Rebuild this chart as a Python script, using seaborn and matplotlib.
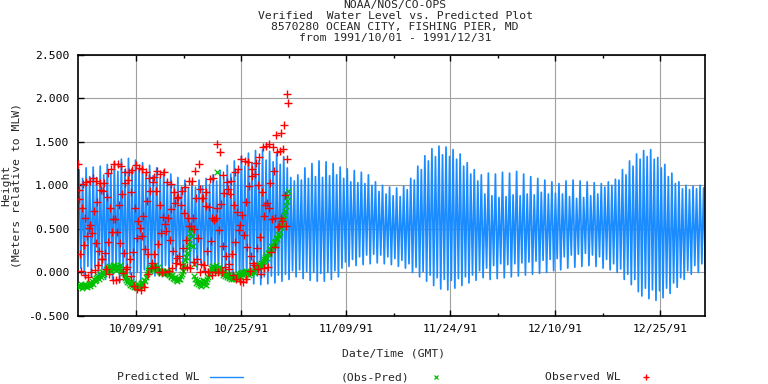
import numpy as np
import pandas as pd
import matplotlib
matplotlib.use("Agg")
import matplotlib.pyplot as plt
import seaborn as sns
from matplotlib.ticker import FormatStrFormatter

# --- data ---
title_lines = ["NOAA/NOS/CO-OPS",
               "Verified  Water Level vs. Predicted Plot",
               "8570280 OCEAN CITY, FISHING PIER, MD",
               "from 1991/10/01 - 1991/12/31"]

# predicted tide, one high and one low per tide cycle (m above MLW)
pred_high = [1.18, 1.08, 1.20, 1.10, 1.21, 1.09, 1.22, 1.12, 1.24, 1.13,
             1.27, 1.16, 1.30, 1.18, 1.31, 1.19, 1.29, 1.18,
             1.26, 1.14, 1.23, 1.11, 1.20, 1.09, 1.17,
             1.05, 1.13, 1.00, 1.09, 0.98, 1.06, 0.97,
             1.04, 0.98, 1.06, 0.99, 1.08, 1.01,
             1.12, 1.05, 1.17, 1.09, 1.23, 1.13, 1.28, 1.18, 1.33,
             1.22, 1.37, 1.26, 1.40, 1.28, 1.41, 1.29, 1.39,
             1.27, 1.36, 1.24, 1.33, 1.20,
             1.09, 1.05, 1.12,
             1.06, 1.20, 1.08, 1.25, 1.10, 1.28, 1.09, 1.27, 1.11, 1.25, 1.12,
             1.21, 1.08, 1.19, 1.04, 1.17, 1.03, 1.15, 1.02, 1.12, 1.00,
             1.04, 0.93, 1.00, 0.90, 0.98, 0.88, 0.97, 0.87, 0.99,
             0.95, 1.08, 1.06, 1.22, 1.18,
             1.34, 1.28, 1.42, 1.33, 1.45, 1.35, 1.44, 1.33, 1.41,
             1.30, 1.36, 1.22, 1.26, 1.13, 1.18,
             1.05, 1.12, 0.90, 1.14, 0.88, 1.13, 0.86, 1.15, 0.87, 1.14, 0.89, 1.16,
             0.88, 1.13, 0.90, 1.10, 0.89, 1.08, 0.92, 1.06, 0.90, 1.04, 0.91, 1.02,
             0.90, 1.05, 0.87, 1.06, 0.85, 1.05, 0.86, 1.04, 0.88, 1.03, 0.90, 1.02,
             0.98, 1.04, 1.00, 1.07, 1.06,
             1.18, 1.12, 1.28, 1.22, 1.36, 1.30, 1.40, 1.33, 1.41, 1.30,
             1.32, 1.20, 1.24, 1.10, 1.14, 1.02,
             1.04, 0.96, 1.00, 0.95, 0.99, 0.96, 1.00, 0.97]
pred_low = [0.05, -0.04, 0.07, -0.05, 0.06, -0.06, 0.04, -0.08, 0.03, -0.09,
            0.01, -0.11, -0.01, -0.13, -0.02, -0.12, 0.00, -0.10,
            0.03, -0.06, 0.05, -0.04, 0.06, -0.03, 0.08, -0.01,
            0.10, 0.02, 0.12, 0.03, 0.13, 0.04, 0.12, 0.03, 0.11, 0.02, 0.09, 0.00,
            0.06, -0.03, 0.03, -0.06, 0.01, -0.08, 0.00, -0.09, -0.02,
            -0.11, -0.03, -0.13, -0.04, -0.14, -0.05, -0.13, -0.04, -0.12, -0.03, -0.10, -0.02, -0.08,
            0.02, -0.05, 0.03,
            -0.07, 0.01, -0.09, 0.00, -0.10, -0.01, -0.10, 0.00, -0.08, 0.02, -0.05,
            0.05, 0.12, 0.07, 0.15, 0.08, 0.18, 0.09, 0.20, 0.10, 0.21,
            0.11, 0.20, 0.10, 0.18, 0.09, 0.16, 0.07, 0.14, 0.05,
            0.10, 0.00, 0.06, -0.05, 0.01,
            -0.10, -0.03, -0.15, -0.06, -0.19, -0.08, -0.20, -0.09, -0.18, -0.07, -0.15, -0.05, -0.12, -0.03, -0.09,
            0.02, -0.06, 0.05, -0.08, 0.08, -0.07, 0.10, -0.06, 0.09, -0.05, 0.10, -0.04,
            0.11, -0.03, 0.12, -0.02, 0.13, -0.01, 0.14, 0.00, 0.15, 0.02, 0.16, 0.03,
            0.18, 0.05, 0.20, 0.06, 0.21, 0.07, 0.22, 0.08, 0.20, 0.07, 0.18, 0.05, 0.15, 0.03, 0.10, 0.00,
            0.04, -0.08, -0.02, -0.14, -0.08,
            -0.22, -0.27, -0.18, -0.30, -0.20, -0.32, -0.21, -0.29, -0.18,
            -0.24, -0.12, -0.17, -0.06,
            -0.08, 0.02, -0.02, 0.08, 0.00, 0.10, 0.03]

# observed water level, 3-hourly from 1991-10-01 00:00 (one row per day)
observed = [1.25, 0.84, 0.95, 0.21, 0.02, 0.74, 1.01, 0.31,
            -0.03, 0.63, 1.04, 0.42, -0.05, 0.51, 1.05, 0.55,
            0.01, 0.45, 1.08, 0.71, 0.03, 0.34, 1.05, 0.81,
            0.09, 0.25, 1.03, 0.95, 0.16, 0.16, 0.94, 1.03,
            0.22, 0.04, 0.87, 1.14, 0.35, -0.02, 0.74, 1.19,
            0.47, -0.09, 0.61, 1.25, 0.61, -0.09, 0.47, 1.24,
            0.77, -0.07, 0.34, 1.22, 0.90, -0.01, 0.22, 1.15,
            1.03, 0.04, 0.06, 1.06, 1.15, 0.16, -0.04, 0.92,
            1.18, 0.24, -0.16, 0.74, 1.23, 0.39, -0.19, 0.59,
            1.20, 0.51, -0.20, 0.42, 1.19, 0.65, -0.17, 0.27,
            1.15, 0.82, -0.02, 0.21, 1.09, 0.94, 0.05, 0.11,
            1.04, 1.10, 0.21, 0.06, 0.94, 1.17, 0.33, 0.00,
            0.77, 1.13, 0.45, 0.01, 0.64, 1.15, 0.56, 0.00,
            0.48, 1.04, 0.62, 0.02, 0.37, 1.02, 0.73, 0.05,
            0.25, 0.92, 0.80, 0.11, 0.17, 0.86, 0.87, 0.19,
            0.10, 0.77, 0.94, 0.28, 0.05, 0.68, 0.98, 0.37,
            0.06, 0.63, 1.05, 0.53, 0.05, 0.53, 1.05, 0.63,
            0.12, 0.50, 1.17, 0.85, 0.15, 0.39, 1.24, 0.96,
            0.01, 0.10, 0.85, 0.85, 0.09, 0.02, 0.76, 0.92,
            0.25, 0.01, 0.75, 1.07, 0.36, -0.03, 0.62, 1.09,
            0.60, 0.00, 0.63, 1.48, 0.74, 0.01, 0.49, 1.38,
            0.79, 0.00, 0.30, 1.12, 0.91, 0.06, 0.19, 1.04,
            0.96, 0.10, 0.04, 0.90, 1.05, 0.21, -0.03, 0.78,
            1.15, 0.35, -0.08, 0.69, 1.19, 0.49, -0.10, 0.55,
            1.30, 0.66, -0.11, 0.43, 1.28, 0.81, -0.07, 0.29,
            1.27, 0.99, 0.02, 0.19, 1.19, 1.11, 0.11, 0.08,
            1.13, 1.26, 0.28, 0.04, 1.00, 1.33, 0.41, -0.02,
            0.92, 1.44, 0.65, 0.05, 0.77, 1.45, 0.80, 0.06,
            0.74, 1.48, 1.03, 0.23, 0.61, 1.44, 1.16, 0.29,
            0.63, 1.58, 1.38, 0.52, 0.53, 1.39, 1.60, 0.62,
            0.59, 1.42, 1.69, 0.89, 0.53, 1.30, 2.05, 1.95]

# observed minus predicted, same times
obs_minus_pred = [-0.15, -0.17, -0.14, -0.16, -0.13, -0.18, -0.15, -0.14,
                  -0.16, -0.13, -0.15, -0.17, -0.14, -0.12, -0.16, -0.13,
                  -0.12, -0.10, -0.13, -0.08, -0.10, -0.06, -0.09, -0.05,
                  -0.04, -0.07, -0.02, -0.05, 0.00, -0.03, 0.01, -0.02,
                  0.02, 0.04, 0.00, 0.06, 0.03, 0.07, 0.04, 0.02,
                  0.05, 0.08, 0.04, 0.09, 0.06, 0.03, 0.07, 0.05,
                  0.06, 0.04, 0.08, 0.02, 0.03, -0.01, 0.01, -0.03,
                  -0.06, -0.09, -0.11, -0.08, -0.12, -0.14, -0.10, -0.13,
                  -0.15, -0.12, -0.17, -0.14, -0.16, -0.13, -0.18, -0.15,
                  -0.14, -0.16, -0.12, -0.15, -0.11, -0.13, -0.09, -0.10,
                  -0.05, -0.02, 0.01, 0.03, 0.05, 0.02, 0.06, 0.04,
                  0.07, 0.04, 0.06, 0.08, 0.05, 0.03, 0.06, 0.02,
                  0.01, 0.03, -0.01, 0.02, 0.00, -0.02, 0.01, -0.01,
                  0.02, -0.01, 0.00, -0.03, -0.02, -0.04, -0.05, -0.03,
                  -0.06, -0.08, -0.05, -0.09, -0.07, -0.10, -0.06, -0.08,
                  -0.07, -0.04, -0.02, 0.02, 0.06, 0.10, 0.14, 0.18,
                  0.22, 0.28, 0.33, 0.38, 0.45, 0.50, 0.42, 0.30,
                  0.10, -0.04, -0.08, -0.12, -0.09, -0.13, -0.10, -0.14,
                  -0.11, -0.15, -0.12, -0.09, -0.13, -0.10, -0.14, -0.11,
                  -0.08, -0.05, -0.02, 0.02, 0.05, 0.03, 0.07, 0.04,
                  0.06, 0.03, 0.08, 1.15, 0.05, 0.02, 0.06, 0.03,
                  0.01, 0.04, -0.01, -0.03, 0.00, -0.04, -0.02, -0.05,
                  -0.03, -0.06, -0.02, -0.05, -0.07, -0.04, -0.08, -0.05,
                  -0.06, -0.03, -0.07, -0.04, -0.02, -0.05, -0.01, -0.04,
                  -0.02, 0.01, -0.03, 0.00, -0.02, 0.02, -0.01, 0.01,
                  0.00, -0.03, 0.01, -0.02, 0.02, 0.00, 0.03, 0.01,
                  0.04, 0.07, 0.05, 0.09, 0.06, 0.10, 0.08, 0.11,
                  0.09, 0.12, 0.15, 0.13, 0.18, 0.20, 0.17, 0.22,
                  0.24, 0.21, 0.27, 0.30, 0.26, 0.32, 0.35, 0.31,
                  0.36, 0.40, 0.38, 0.44, 0.42, 0.47, 0.52, 0.55,
                  0.58, 0.62, 0.66, 0.70, 0.76, 0.82, 0.88, 0.94]

tick_days = [8.55, 23.9, 39.3, 54.65, 70.0, 85.35]
tick_labels = ["10/09/91", "10/25/91", "11/09/91", "11/24/91", "12/10/91", "12/25/91"]

blue = "#1a8cff"
green = "#00c000"
red = "#ff0000"

t0 = pd.Timestamp("1991-10-01 00:00")
cycle = pd.Timedelta(hours=12.42)
high_time = pd.date_range(t0 + pd.Timedelta(hours=4.8), periods=len(pred_high), freq=cycle)
low_time = high_time + cycle / 2
pred = pd.DataFrame({"time": list(high_time) + list(low_time),
                     "wl": pred_high + pred_low}).sort_values("time")

obs = pd.DataFrame({"time": pd.date_range(t0, periods=len(observed), freq="3h"),
                    "obs": observed, "resid": obs_minus_pred})

sns.set_theme(style="white")
plt.rcParams["font.family"] = ["DejaVu Sans Mono"]
fs = 8.2

fig = plt.figure(figsize=(7.68, 3.84), dpi=100)
ax = fig.add_axes([77.7 / 768, 1 - 316 / 384, (705 - 77.7) / 768, (316 - 54.7) / 384])

sns.lineplot(data=pred, x="time", y="wl", ax=ax, color=blue, lw=1.25,
             estimator=None, zorder=2)
sns.scatterplot(data=obs, x="time", y="resid", ax=ax, marker="x", color=green,
                s=16, linewidth=0.9, zorder=3)
sns.scatterplot(data=obs, x="time", y="obs", ax=ax, marker="+", color=red,
                s=32, linewidth=1.0, zorder=4)

ax.set_xlim(t0, pd.Timestamp("1992-01-01 00:00"))
ax.set_ylim(-0.5, 2.5)
ax.set_yticks([-0.5, 0.0, 0.5, 1.0, 1.5, 2.0, 2.5])
ax.yaxis.set_major_formatter(FormatStrFormatter("%.3f"))
major = [t0 + pd.Timedelta(days=d) for d in tick_days]
minor = [t0 + pd.Timedelta(days=d + 7.05) for d in tick_days[:-1]]
ax.set_xticks(major)
ax.set_xticklabels(tick_labels)
ax.set_xticks(minor, minor=True)
ax.set_xlabel("")
ax.set_ylabel("")

ax.grid(True, which="major", color="#a0a0a0", lw=0.8)
ax.set_axisbelow(True)
ax.tick_params(axis="both", which="both", direction="in", colors="black",
               labelsize=fs, top=True, bottom=True, left=True)
ax.tick_params(axis="both", which="major", length=4, width=1.0)
ax.tick_params(axis="x", which="minor", length=2.5, width=1.0)
ax.tick_params(axis="y", pad=6)
ax.tick_params(axis="x", pad=6)
for s in ax.spines.values():
    s.set_color("black")
    s.set_linewidth(1.2)

# title block
for i, line in enumerate(title_lines):
    fig.text(395 / 768, 1 - (5 + 11 * i) / 384, line, ha="center", va="center", fontsize=fs)

fig.text(11 / 768, 1 - 185 / 384, "Height\n(Meters relative to MLW)", rotation=90,
         ha="center", va="center", multialignment="center", linespacing=1.05, fontsize=fs)
fig.text(394 / 768, 1 - 354 / 384, "Date/Time (GMT)", ha="center", va="center", fontsize=fs)

# legend row
ly = 1 - 377 / 384
fig.text(117 / 768, ly, "Predicted WL", ha="left", va="center", fontsize=fs)
ax.plot([210 / 768, 243 / 768], [ly, ly], transform=fig.transFigure, color=blue,
        lw=1.0, clip_on=False)
fig.text(341 / 768, ly, "(Obs-Pred)", ha="left", va="center", fontsize=fs)
ax.plot([436 / 768], [ly], transform=fig.transFigure, marker="x", color=green,
        ms=3.5, mew=0.9, clip_on=False)
fig.text(545 / 768, ly, "Observed WL", ha="left", va="center", fontsize=fs)
ax.plot([646 / 768], [ly], transform=fig.transFigure, marker="+", color=red,
        ms=5, mew=1.0, clip_on=False)

fig.savefig("out.png", dpi=100)
